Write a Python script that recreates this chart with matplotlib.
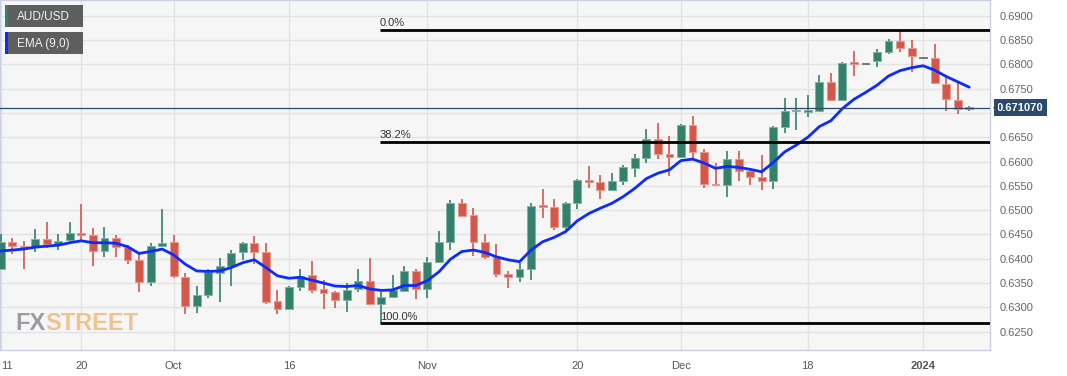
import numpy as np
import matplotlib
matplotlib.use('Agg')
import matplotlib.pyplot as plt
from matplotlib.patches import Rectangle, Polygon
import matplotlib.transforms as mtransforms

# AUD/USD daily candles, 11 Sep 2023 - 5 Jan 2024 (one per weekday)
opens = [0.6379, 0.6435, 0.6426, 0.6424, 0.6441, 0.6430, 0.6438, 0.6454, 0.6448, 0.6417,
         0.6442, 0.6425, 0.6398, 0.6353, 0.6427, 0.6434, 0.6363, 0.6303, 0.6325, 0.6370,
         0.6386, 0.6413, 0.6432, 0.6415, 0.6314, 0.6296, 0.6343, 0.6366, 0.6337, 0.6331,
         0.6315, 0.6338, 0.6355, 0.6308, 0.6322, 0.6334, 0.6375, 0.6338, 0.6394, 0.6434,
         0.6514, 0.6490, 0.6434, 0.6404, 0.6368, 0.6362, 0.6379, 0.6509, 0.6507, 0.6466,
         0.6515, 0.6562, 0.6557, 0.6542, 0.6560, 0.6586, 0.6608, 0.6646, 0.6615, 0.6609,
         0.6675, 0.6619, 0.6554, 0.6552, 0.6605, 0.6581, 0.6569, 0.6561, 0.6672, 0.6703,
         0.6702, 0.6705, 0.6763, 0.6727, 0.6803, 0.6800, 0.6807, 0.6826, 0.6848, 0.6833,
         0.6812, 0.6812, 0.6760, 0.6727, 0.6708]
highs = [0.6450, 0.6442, 0.6437, 0.6461, 0.6475, 0.6450, 0.6475, 0.6512, 0.6463, 0.6466,
         0.6448, 0.6428, 0.6411, 0.6432, 0.6502, 0.6448, 0.6370, 0.6345, 0.6379, 0.6401,
         0.6418, 0.6435, 0.6447, 0.6432, 0.6335, 0.6345, 0.6380, 0.6395, 0.6356, 0.6334,
         0.6350, 0.6380, 0.6401, 0.6331, 0.6367, 0.6385, 0.6378, 0.6404, 0.6458, 0.6521,
         0.6524, 0.6504, 0.6450, 0.6430, 0.6374, 0.6392, 0.6514, 0.6543, 0.6522, 0.6517,
         0.6565, 0.6590, 0.6572, 0.6576, 0.6593, 0.6615, 0.6666, 0.6680, 0.6652, 0.6677,
         0.6694, 0.6625, 0.6598, 0.6622, 0.6622, 0.6582, 0.6613, 0.6674, 0.6730, 0.6730,
         0.6737, 0.6778, 0.6783, 0.6804, 0.6827, 0.6800, 0.6831, 0.6853, 0.6871, 0.6850,
         0.6812, 0.6842, 0.6773, 0.6761, 0.6714]
lows = [0.6379, 0.6409, 0.6380, 0.6415, 0.6422, 0.6418, 0.6435, 0.6439, 0.6386, 0.6404,
        0.6404, 0.6389, 0.6331, 0.6345, 0.6425, 0.6361, 0.6286, 0.6288, 0.6320, 0.6312,
        0.6345, 0.6398, 0.6389, 0.6307, 0.6286, 0.6295, 0.6334, 0.6329, 0.6296, 0.6299,
        0.6291, 0.6332, 0.6305, 0.6267, 0.6319, 0.6332, 0.6317, 0.6319, 0.6391, 0.6419,
        0.6487, 0.6406, 0.6399, 0.6363, 0.6339, 0.6352, 0.6356, 0.6483, 0.6460, 0.6456,
        0.6502, 0.6545, 0.6522, 0.6540, 0.6552, 0.6568, 0.6598, 0.6605, 0.6571, 0.6607,
        0.6605, 0.6545, 0.6550, 0.6528, 0.6561, 0.6552, 0.6541, 0.6543, 0.6658, 0.6665,
        0.6691, 0.6701, 0.6725, 0.6725, 0.6775, 0.6800, 0.6795, 0.6821, 0.6826, 0.6784,
        0.6812, 0.6759, 0.6704, 0.6698, 0.6704]
closes = [0.6435, 0.6427, 0.6423, 0.6441, 0.6430, 0.6437, 0.6454, 0.6449, 0.6417, 0.6442,
          0.6425, 0.6398, 0.6353, 0.6427, 0.6433, 0.6365, 0.6303, 0.6326, 0.6372, 0.6385,
          0.6411, 0.6432, 0.6415, 0.6311, 0.6296, 0.6343, 0.6365, 0.6336, 0.6330, 0.6315,
          0.6336, 0.6355, 0.6308, 0.6322, 0.6335, 0.6375, 0.6338, 0.6394, 0.6434, 0.6514,
          0.6489, 0.6434, 0.6404, 0.6368, 0.6362, 0.6379, 0.6509, 0.6507, 0.6466, 0.6515,
          0.6562, 0.6558, 0.6542, 0.6560, 0.6589, 0.6607, 0.6646, 0.6615, 0.6609, 0.6675,
          0.6620, 0.6554, 0.6551, 0.6605, 0.6581, 0.6569, 0.6561, 0.6672, 0.6703, 0.6705,
          0.6706, 0.6763, 0.6727, 0.6803, 0.6801, 0.6800, 0.6826, 0.6848, 0.6833, 0.6818,
          0.6812, 0.6761, 0.6728, 0.6709, 0.67107]
ema9 = [0.6416, 0.6418, 0.6420, 0.6424, 0.6426, 0.6428, 0.6433, 0.6437, 0.6433, 0.6433,
        0.6432, 0.6425, 0.6411, 0.6415, 0.6420, 0.6408, 0.6389, 0.6375, 0.6374, 0.6375,
        0.6382, 0.6392, 0.6398, 0.6382, 0.6365, 0.6360, 0.6362, 0.6356, 0.6350, 0.6344,
        0.6343, 0.6345, 0.6338, 0.6335, 0.6336, 0.6345, 0.6345, 0.6355, 0.6373, 0.6399,
        0.6415, 0.6418, 0.6413, 0.6404, 0.6398, 0.6394, 0.6418, 0.6435, 0.6444, 0.6456,
        0.6478, 0.6493, 0.6504, 0.6514, 0.6528, 0.6545, 0.6565, 0.6576, 0.6583, 0.6602,
        0.6605, 0.6597, 0.6586, 0.6590, 0.6588, 0.6584, 0.6579, 0.6598, 0.6620, 0.6634,
        0.6650, 0.6672, 0.6684, 0.6709, 0.6728, 0.6742, 0.6757, 0.6776, 0.6787, 0.6793,
        0.6797, 0.6788, 0.6775, 0.6764, 0.6753]

tick_pos = [0, 7, 15, 25, 37, 50, 59, 70, 80]
tick_labels = ['11', '20', 'Oct', '16', 'Nov', '20', 'Dec', '18', '2024']

fib_high = 0.6871
fib_low = 0.6267
fib_start = 33
fib_levels = [0.0, 0.382, 1.0]
last_price = 0.671070

GREEN = '#33806b'
RED = '#d4574a'
W, H = 1067, 376

plt.rcParams['font.family'] = ['Liberation Sans', 'DejaVu Sans']
fig = plt.figure(figsize=(W / 100, H / 100), dpi=100)
ax = fig.add_axes([0, 26 / H, 990 / W, 1 - 26 / H])
ax.set_facecolor('#f6f6f6')

o = np.array(opens)
c = np.array(closes)
hi = np.array(highs)
lo = np.array(lows)
x = np.arange(len(o))

cols = np.where(c > o, GREEN, np.where(c < o, RED, '#222222'))
ax.vlines(x, lo, hi, colors=cols, lw=1.2, zorder=3)
bottoms = np.minimum(o, c)
heights = np.maximum(np.abs(c - o), 0.00035)
ax.bar(x, heights, bottom=bottoms, width=0.68, color=cols,
       edgecolor=cols, linewidth=0.6, zorder=3)
# light rim around the bodies
ax.bar(x, heights, bottom=bottoms, width=0.68, color='none',
       edgecolor='white', alpha=0.35, linewidth=0.8, zorder=3)

ax.plot(x, ema9, color='#0a2cff', lw=2, zorder=4, solid_capstyle='round')

# fibonacci retracement
xmax = 85.8
for lev in fib_levels:
    yv = fib_high - lev * (fib_high - fib_low)
    ax.hlines(yv, fib_start - 0.1, xmax, color='black', lw=2, zorder=5)
    ax.text(fib_start - 0.1, yv + 0.0004, f'{lev * 100:.1f}%', fontsize=8,
            color='#333333', va='bottom', ha='left', zorder=5)

ax.axhline(last_price, color='#2b4a6e', lw=0.9, zorder=5)

ax.set_xlim(-0.06, xmax)
ax.set_ylim(0.62124, 0.69323)

yt = np.arange(0.625, 0.6901, 0.005)
ax.set_yticks(yt)
# the 0.6700 label sits under the last-price tag
ax.set_yticklabels(['' if abs(v - 0.67) < 1e-6 else f'{v:.4f}' for v in yt])
ax.yaxis.tick_right()
ax.tick_params(axis='y', length=0, pad=7, labelsize=8, labelcolor='#666666')
ax.set_xticks(tick_pos)
ax.set_xticklabels(tick_labels)
ax.tick_params(axis='x', length=0, pad=8, labelsize=8, labelcolor='#555555')
for lbl in ax.get_xticklabels():
    if lbl.get_text() == '2024':
        lbl.set_fontweight('bold')
ax.get_xticklabels()[0].set_ha('left')
ax.grid(True, color='#e3e3e3', lw=1)
ax.set_axisbelow(True)
for sp in ax.spines.values():
    sp.set_color('#c9d1e3')
    sp.set_linewidth(1)

# last price tag on the right axis
trans = mtransforms.blended_transform_factory(ax.transAxes, ax.transData)
ax.text(1.0 + 7 / 990, last_price, f'{last_price:.6f}', transform=trans,
        fontsize=8, fontweight='bold', color='white', va='center', ha='left',
        bbox=dict(boxstyle='square,pad=0.3', fc='#2b4a6e', ec='none'),
        clip_on=False, zorder=6)
ax.add_patch(Polygon([(1.0 + 3 / 990, last_price), (1.0 + 8 / 990, last_price + 0.0009),
                      (1.0 + 8 / 990, last_price - 0.0009)], closed=True,
                     transform=trans, fc='#2b4a6e', ec='none', clip_on=False, zorder=6))

# legend boxes
def fig_box(x0, y0, w, h, color):
    fig.add_artist(Rectangle((x0 / W, 1 - (y0 + h) / H), w / W, h / H,
                             transform=fig.transFigure, fc=color, ec='none'))

for row, (name, col) in enumerate([('AUD/USD', GREEN), ('EMA (9,0)', '#0a2cff')]):
    top = 5 + row * 27
    fig_box(5, top, 78, 22, '#5e5e5e')
    fig_box(5, top, 3, 22, col)
    fig.text(17 / W, 1 - (top + 11.5) / H, name, fontsize=8.5, color='#f2f2f2',
             va='center', ha='left')

# watermark
fx = fig.text(15 / W, 1 - 330 / H, 'FX', fontsize=17, fontweight='bold',
              color='#9c9ca4', va='baseline', ha='left')
fig.canvas.draw()
bb = fx.get_window_extent(renderer=fig.canvas.get_renderer())
fig.text(bb.x1 / W, 1 - 330 / H, 'STREET', fontsize=17, fontweight='bold',
         color='#f0c28e', va='baseline', ha='left')

fig.savefig('out.png', dpi=100, facecolor='white')
